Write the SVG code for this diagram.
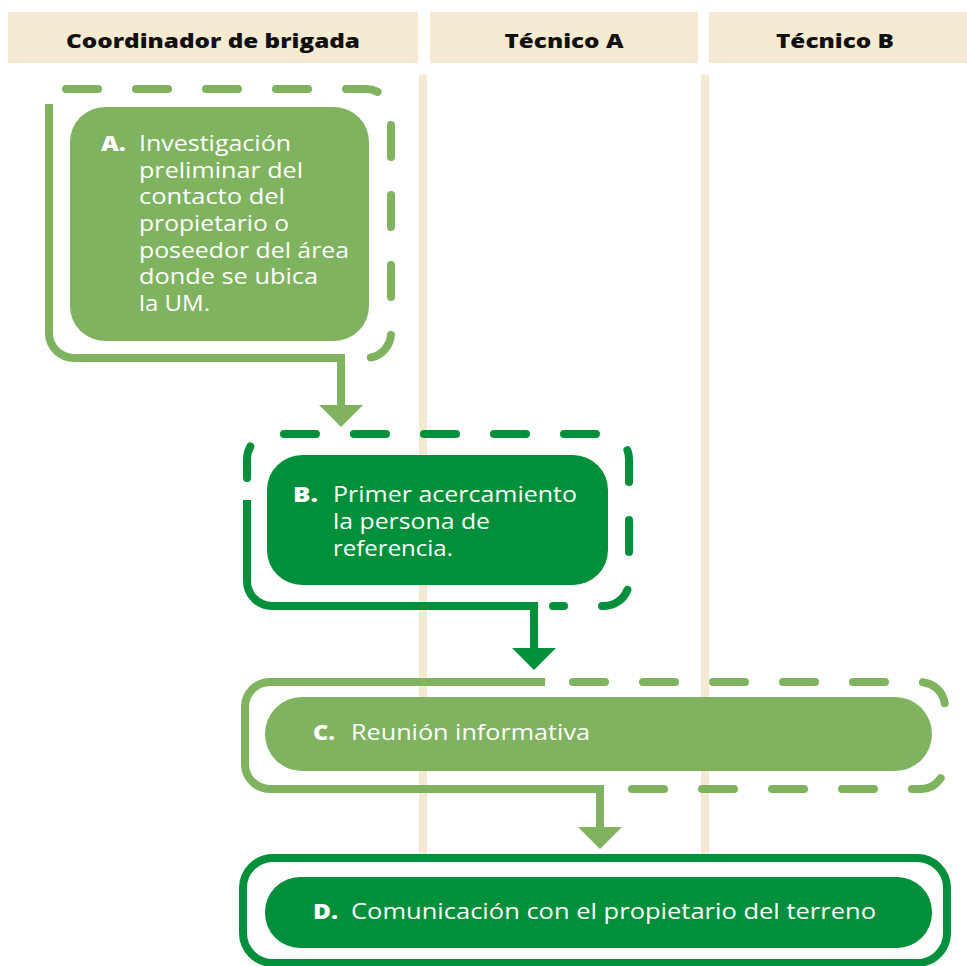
<svg xmlns="http://www.w3.org/2000/svg" width="967" height="966" viewBox="0 0 967 966">
  <style>
    .hdr { fill: #F5EBD3; }
    .lane { fill: #F4EAD2; }
    .hdr-text { font-family: "Open Sans", "Liberation Sans", sans-serif; font-weight: 800; font-size: 20px; fill: #111111; text-anchor: middle; }
    .lbl { font-family: "Open Sans", "Liberation Sans", sans-serif; font-weight: 800; font-size: 21px; fill: #ffffff; }
    .txt { font-family: "Open Sans", "Liberation Sans", sans-serif; font-weight: 400; font-size: 21px; fill: #ffffff; }
    .light { fill: #7FB35F; }
    .dark { fill: #008F3A; }
    .frame-light { fill: none; stroke: #7FB35F; stroke-width: 8; }
    .frame-dark { fill: none; stroke: #008F3A; stroke-width: 8; }
    .dash { stroke-dasharray: 32 38; stroke-linecap: round; }
  </style>

  <!-- swimlane headers -->
  <g id="lanes">
    <rect class="hdr" x="8" y="12" width="410" height="51"/>
    <rect class="hdr" x="430" y="12" width="268" height="51"/>
    <rect class="hdr" x="709" y="12" width="258" height="51"/>
    <text class="hdr-text" x="213" y="48" textLength="294" lengthAdjust="spacingAndGlyphs">Coordinador de brigada</text>
    <text class="hdr-text" x="564" y="48" textLength="119" lengthAdjust="spacingAndGlyphs">Técnico A</text>
    <text class="hdr-text" x="835" y="48" textLength="118" lengthAdjust="spacingAndGlyphs">Técnico B</text>
    <rect class="lane" x="419" y="75" width="8" height="784"/>
    <rect class="lane" x="701" y="75" width="8" height="784"/>
  </g>

  <!-- step A -->
  <g id="step-a">
    <path class="frame-light dash" d="M 66 89 H 366 A 25 25 0 0 1 391 114 V 333 A 25 25 0 0 1 366 358 H 356"/>
    <rect class="light" x="70" y="107" width="299" height="234" rx="35"/>
    <text class="lbl" x="101" y="151" textLength="25" lengthAdjust="spacingAndGlyphs">A.</text>
    <text class="txt" x="139" y="151" textLength="152" lengthAdjust="spacingAndGlyphs">Investigación</text>
    <text class="txt" x="139" y="178" textLength="164" lengthAdjust="spacingAndGlyphs">preliminar del</text>
    <text class="txt" x="139" y="204" textLength="146" lengthAdjust="spacingAndGlyphs">contacto del</text>
    <text class="txt" x="139" y="231" textLength="150" lengthAdjust="spacingAndGlyphs">propietario o</text>
    <text class="txt" x="139" y="258" textLength="210" lengthAdjust="spacingAndGlyphs">poseedor del área</text>
    <text class="txt" x="139" y="284" textLength="179" lengthAdjust="spacingAndGlyphs">donde se ubica</text>
    <text class="txt" x="139" y="311" textLength="71" lengthAdjust="spacingAndGlyphs">la UM.</text>
  </g>

  <!-- step B -->
  <g id="step-b">
    <path class="frame-dark dash" d="M 247 478 V 459 A 25 25 0 0 1 272 434 H 604 A 25 25 0 0 1 629 459 V 581 A 25 25 0 0 1 604 606 H 553"/>
    <rect class="dark" x="267" y="455" width="341" height="130" rx="35"/>
    <text class="lbl" x="293" y="502" textLength="25" lengthAdjust="spacingAndGlyphs">B.</text>
    <text class="txt" x="333" y="502" textLength="244" lengthAdjust="spacingAndGlyphs">Primer acercamiento</text>
    <text class="txt" x="333" y="529" textLength="157" lengthAdjust="spacingAndGlyphs">la persona de</text>
    <text class="txt" x="333" y="556" textLength="120" lengthAdjust="spacingAndGlyphs">referencia.</text>
  </g>

  <!-- step C -->
  <g id="step-c">
    <path class="frame-light dash" d="M 573 682 H 920 A 25 25 0 0 1 945 707 V 732"/>
    <path class="frame-light dash" d="M 632 789 H 920 A 25 25 0 0 0 945 764 V 748"/>
    <rect class="light" x="265" y="697" width="667" height="74" rx="37"/>
    <text class="lbl" x="313" y="740" textLength="22" lengthAdjust="spacingAndGlyphs">C.</text>
    <text class="txt" x="351" y="740" textLength="239" lengthAdjust="spacingAndGlyphs">Reunión informativa</text>
  </g>

  <!-- step D -->
  <g id="step-d">
    <rect class="frame-dark" x="243" y="858" width="704" height="105" rx="30"/>
    <rect class="dark" x="265" y="877" width="667" height="71" rx="35"/>
    <text class="lbl" x="313" y="919" textLength="25" lengthAdjust="spacingAndGlyphs">D.</text>
    <text class="txt" x="351" y="919" textLength="525" lengthAdjust="spacingAndGlyphs">Comunicación con el propietario del terreno</text>
  </g>

  <!-- connectors: solid frame edges leading into the next step -->
  <g id="connectors">
    <path class="frame-light" d="M 49 104 V 333 A 25 25 0 0 0 74 358 H 341 V 407"/>
    <polygon class="light" points="319,405 363,405 341,427"/>
    <path class="frame-dark" d="M 247 500 V 581 A 25 25 0 0 0 272 606 H 534 V 650"/>
    <polygon class="dark" points="512,648 556,648 534,670"/>
    <path class="frame-light" d="M 545 682 H 270 A 25 25 0 0 0 245 707 V 764 A 25 25 0 0 0 270 789 H 600 V 829"/>
    <polygon class="light" points="578,827 622,827 600,849"/>
  </g>
</svg>
